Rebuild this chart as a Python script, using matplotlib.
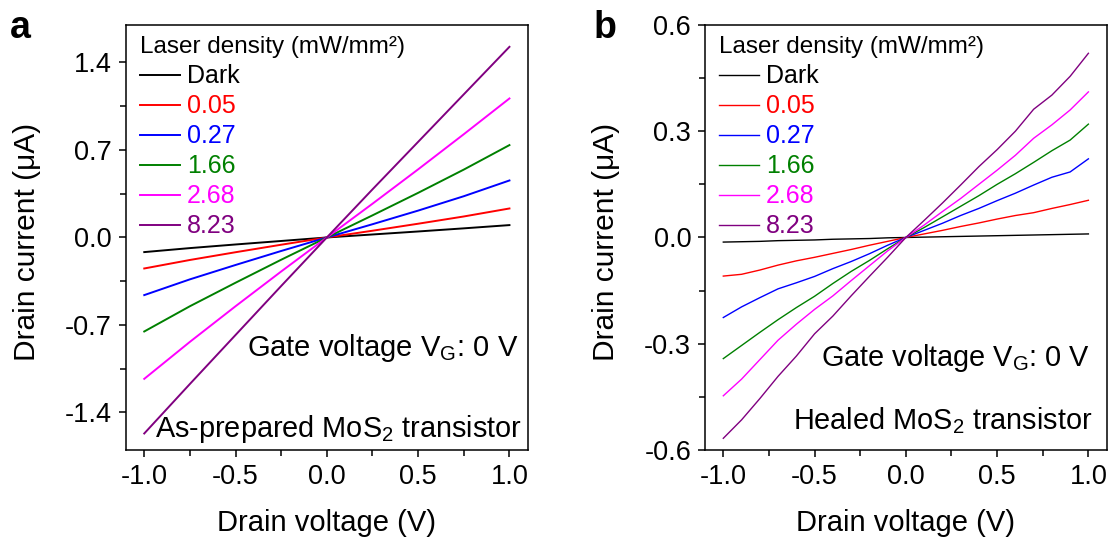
import matplotlib
matplotlib.use("Agg")
import matplotlib.pyplot as plt
from matplotlib.ticker import MultipleLocator, FormatStrFormatter

plt.rcParams['font.family'] = ['Liberation Sans', 'DejaVu Sans']
plt.rcParams['mathtext.fontset'] = 'custom'
plt.rcParams['mathtext.rm'] = 'Liberation Sans'
plt.rcParams['mathtext.it'] = 'Liberation Sans:italic'
plt.rcParams['mathtext.bf'] = 'Liberation Sans:bold'
plt.rcParams['axes.unicode_minus'] = False

# ---- data ----
labels = ['Dark', '0.05', '0.27', '1.66', '2.68', '8.23']
colors = ['black', '#ff0000', '#0000ff', '#008000', '#ff00ff', '#800080']

# panel a: as-prepared transistor
v_a = [-1.0, -0.75, -0.5, -0.25, 0.0, 0.25, 0.5, 0.75, 1.0]
i_a_dark = [-0.117, -0.085, -0.056, -0.028, 0, 0.024, 0.048, 0.073, 0.099]
i_a_005 = [-0.248, -0.180, -0.118, -0.058, 0, 0.054, 0.110, 0.168, 0.232]
i_a_027 = [-0.461, -0.335, -0.220, -0.108, 0, 0.106, 0.215, 0.330, 0.456]
i_a_166 = [-0.752, -0.550, -0.362, -0.178, 0, 0.177, 0.357, 0.543, 0.739]
i_a_268 = [-1.131, -0.835, -0.550, -0.272, 0, 0.270, 0.545, 0.826, 1.112]
i_a_823 = [-1.568, -1.172, -0.780, -0.388, 0, 0.385, 0.765, 1.145, 1.525]

# panel b: healed transistor
v_b = [-1.0, -0.9, -0.8, -0.7, -0.6, -0.5, -0.4, -0.3, -0.2, -0.1, 0.0,
       0.1, 0.2, 0.3, 0.4, 0.5, 0.6, 0.7, 0.8, 0.9, 1.0]
i_b_dark = [-0.013, -0.012, -0.011, -0.009, -0.008, -0.007, -0.005, -0.004, -0.003, -0.001, 0,
            0.001, 0.002, 0.003, 0.004, 0.005, 0.006, 0.007, 0.008, 0.009, 0.010]
i_b_005 = [-0.109, -0.104, -0.092, -0.078, -0.066, -0.056, -0.045, -0.034, -0.022, -0.011, 0,
           0.010, 0.020, 0.031, 0.041, 0.052, 0.062, 0.070, 0.082, 0.093, 0.105]
i_b_027 = [-0.226, -0.196, -0.170, -0.145, -0.128, -0.110, -0.088, -0.068, -0.046, -0.022, 0,
           0.020, 0.040, 0.062, 0.082, 0.104, 0.125, 0.148, 0.170, 0.185, 0.222]
i_b_166 = [-0.342, -0.305, -0.268, -0.232, -0.198, -0.166, -0.130, -0.096, -0.065, -0.032, 0,
           0.028, 0.058, 0.088, 0.118, 0.150, 0.180, 0.212, 0.245, 0.275, 0.320]
i_b_268 = [-0.447, -0.400, -0.345, -0.290, -0.245, -0.203, -0.165, -0.122, -0.080, -0.038, 0,
           0.035, 0.073, 0.110, 0.150, 0.190, 0.232, 0.280, 0.318, 0.360, 0.411]
i_b_823 = [-0.567, -0.515, -0.455, -0.392, -0.335, -0.272, -0.222, -0.165, -0.110, -0.056, 0,
           0.048, 0.097, 0.148, 0.200, 0.248, 0.300, 0.362, 0.402, 0.455, 0.520]

series_a = [i_a_dark, i_a_005, i_a_027, i_a_166, i_a_268, i_a_823]
series_b = [i_b_dark, i_b_005, i_b_027, i_b_166, i_b_268, i_b_823]

fig = plt.figure(figsize=(11.14, 5.38), dpi=100)
ax1 = fig.add_axes([0.1131, 0.1636, 0.3606, 0.79])
ax2 = fig.add_axes([0.6329, 0.1636, 0.3605, 0.79])


def style_axes(ax, ylim, ystep):
    ax.set_xlim(-1.1, 1.1)
    ax.set_ylim(*ylim)
    ax.xaxis.set_major_locator(MultipleLocator(0.5))
    ax.xaxis.set_minor_locator(MultipleLocator(0.25))
    ax.yaxis.set_major_locator(MultipleLocator(ystep))
    ax.yaxis.set_minor_locator(MultipleLocator(ystep / 2))
    ax.xaxis.set_major_formatter(FormatStrFormatter('%.1f'))
    ax.yaxis.set_major_formatter(FormatStrFormatter('%.1f'))
    ax.tick_params(which='both', direction='out', width=1.1, labelsize=19.5,
                   top=False, right=False)
    ax.tick_params(which='major', length=5, pad=5)
    ax.tick_params(which='minor', length=4)
    for s in ax.spines.values():
        s.set_linewidth(1.1)
    ax.set_xlabel('Drain voltage (V)', fontsize=21)
    ax.set_ylabel('Drain current (μA)', fontsize=21.5)


for ys, lab, c in zip(series_a, labels, colors):
    ax1.plot(v_a, ys, color=c, lw=1.4, label=lab)
for ys, lab, c in zip(series_b, labels, colors):
    ax2.plot(v_b, ys, color=c, lw=1.0, label=lab)

style_axes(ax1, (-1.7, 1.7), 0.7)
style_axes(ax2, (-0.6, 0.6), 0.3)

for ax in (ax1, ax2):
    ax.xaxis.set_label_coords(0.5, -0.14)
    ax.yaxis.set_label_coords(-0.2125, 0.49)
    leg = ax.legend(loc='upper left', bbox_to_anchor=(0.035, 0.973), frameon=False,
                    title='Laser density (mW/mm²)', title_fontsize=17.5,
                    fontsize=18, handlelength=1.6, handletextpad=0.28,
                    labelspacing=0.24, borderpad=0, borderaxespad=0,
                    alignment='left')
    for t, ln in zip(leg.get_texts(), leg.get_lines()):
        t.set_color(ln.get_color())

ax1.text(0.976, 0.221, 'Gate voltage V$_\\mathrm{G}$: 0 V', transform=ax1.transAxes,
         ha='right', va='baseline', fontsize=21)
ax1.text(0.985, 0.030, 'As-prepared MoS$_\\mathrm{2}$ transistor', transform=ax1.transAxes,
         ha='right', va='baseline', fontsize=20.8)
ax2.text(0.958, 0.198, 'Gate voltage V$_\\mathrm{G}$: 0 V', transform=ax2.transAxes,
         ha='right', va='baseline', fontsize=20.8)
ax2.text(0.966, 0.049, 'Healed MoS$_\\mathrm{2}$ transistor', transform=ax2.transAxes,
         ha='right', va='baseline', fontsize=20.8)

fig.text(0.009, 0.982, 'a', fontsize=27, fontweight='bold', va='top')
fig.text(0.533, 0.982, 'b', fontsize=27, fontweight='bold', va='top')

fig.savefig('out.png', dpi=100)
